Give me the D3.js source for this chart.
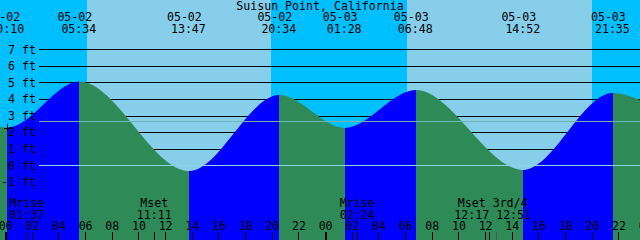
<!DOCTYPE html>
<html>
<head>
<meta charset="utf-8">
<script src="https://cdn.jsdelivr.net/npm/d3@7"></script>
<style>
  html, body { margin: 0; padding: 0; overflow: hidden; background: #87CEEB; }
</style>
</head>
<body>
<div id="chart"></div>
<script>
// tide chart data
const title = "Suisun Point, California";
const domainTimes = ["05-01 23:37", "05-03 23:37"];

// tide level at the edges and at each high / low
const tideTimes = ["05-01 23:37", "05-02 00:10", "05-02 05:34", "05-02 13:47", "05-02 20:34",
                   "05-03 01:28", "05-03 06:48", "05-03 14:52", "05-03 21:35", "05-03 23:37"];
const tideFeet = [2.33, 2.27, 5.05, -0.35, 4.24, 2.25, 4.54, -0.28, 4.36, 3.94];

// sunrise / sunset, the chart starts at night
const sunTimes = ["05-02 06:10", "05-02 19:58", "05-03 06:08", "05-03 19:59"];

// moon events
const moonTimes = ["05-02 01:37", "05-02 11:11", "05-03 02:24", "05-03 12:17", "05-03 12:51"];
const moonNames = ["Mrise", "Mset", "Mrise", "Mset", "3rd/4"];

const ftTicks = [-1, 0, 1, 2, 3, 4, 5, 6, 7];
const datumFt = 0;
const mslFt = 2.7;
const hourTickRange = ["05-02 00:00", "05-04 00:00"];

const width = 640, height = 240;
const font = "'DejaVu Sans Mono', 'Liberation Mono', monospace";
const fontSize = "11.6px";

const parse = d3.timeParse("%m-%d %H:%M");
const fmtDate = d3.timeFormat("%m-%d");
const fmtTime = d3.timeFormat("%H:%M");

const tide = tideTimes.map((t, i) => ({ t: parse(t), ft: tideFeet[i] }));

const x = d3.scaleTime()
    .domain(domainTimes.map(parse))
    .range([0, width]);

const y = d3.scaleLinear()
    .domain([0, 7])
    .range([165.3, 49.3]);

const svg = d3.select("#chart")
    .append("svg")
    .attr("width", width)
    .attr("height", height)
    .style("display", "block");

// sky: night before first sunrise, then alternating
const sunEdges = [x.domain()[0], ...sunTimes.map(parse), x.domain()[1]];
svg.selectAll(".sky")
    .data(d3.pairs(sunEdges))
    .enter()
    .append("rect")
    .attr("class", "sky")
    .attr("x", d => Math.round(x(d[0])))
    .attr("y", 0)
    .attr("width", d => Math.round(x(d[1])) - Math.round(x(d[0])))
    .attr("height", height)
    .attr("fill", (d, i) => i % 2 === 0 ? "#00BFFF" : "#87CEEB");

// black grid lines, hidden under the water
svg.append("g")
    .attr("transform", "translate(39,0)")
    .call(d3.axisLeft(y).tickValues(ftTicks).tickSize(-(width - 39)).tickFormat(""))
    .call(g => g.select(".domain").remove())
    .selectAll("line")
    .attr("stroke", "#000")
    .attr("shape-rendering", "crispEdges");

// water: area clip, coloured by rising / falling
const area = d3.area()
    .x(d => x(d.t))
    .y0(height)
    .y1(d => y(d.ft))
    .curve(d3.curveMonotoneX);

svg.append("clipPath")
    .attr("id", "water")
    .append("path")
    .attr("d", area(tide));

svg.append("g")
    .attr("clip-path", "url(#water)")
    .selectAll("rect")
    .data(d3.pairs(tide))
    .enter()
    .append("rect")
    .attr("x", d => Math.round(x(d[0].t)))
    .attr("y", 0)
    .attr("width", d => Math.round(x(d[1].t)) - Math.round(x(d[0].t)))
    .attr("height", height)
    .attr("fill", d => d[1].ft > d[0].ft ? "#0000FF" : "#2E8B57");

// datum and mean sea level lines
svg.append("line")
    .attr("x1", 39).attr("x2", width)
    .attr("y1", Math.round(y(mslFt)) + 0.5).attr("y2", Math.round(y(mslFt)) + 0.5)
    .attr("stroke", "#6fb5b5");
svg.append("line")
    .attr("x1", 39).attr("x2", width)
    .attr("y1", Math.round(y(datumFt)) + 0.5).attr("y2", Math.round(y(datumFt)) + 0.5)
    .attr("stroke", "#8fd3ea");

// ft labels
svg.append("g")
    .attr("transform", "translate(39,0)")
    .call(d3.axisLeft(y).tickValues(ftTicks).tickSize(0).tickPadding(3).tickFormat(d => d + " ft"))
    .call(g => g.select(".domain").remove())
    .selectAll("text")
    .attr("fill", "#000")
    .attr("font-family", font)
    .attr("font-size", fontSize);

// marker at the first low
const first = tide[1];
svg.append("path")
    .attr("d", `M${x(first.t) - 3.5},${y(first.ft) + 0.5}h8M${Math.round(x(first.t)) + 0.5},${y(first.ft) - 3.5}v8`)
    .attr("stroke", "#000")
    .attr("shape-rendering", "crispEdges");

// title
svg.append("text")
    .attr("x", width / 2)
    .attr("y", 9.6)
    .attr("text-anchor", "middle")
    .attr("font-family", font)
    .attr("font-size", fontSize)
    .text(title);

// high / low labels along the top
const events = tide.slice(1, -1);
const topLabels = svg.append("g")
    .attr("font-family", font)
    .attr("font-size", fontSize)
    .attr("text-anchor", "middle");
topLabels.selectAll(".date")
    .data(events)
    .enter()
    .append("text")
    .attr("x", d => x(d.t) - 4.5)
    .attr("y", 21)
    .text(d => fmtDate(d.t));
topLabels.selectAll(".time")
    .data(events)
    .enter()
    .append("text")
    .attr("x", d => x(d.t) - 0.5)
    .attr("y", 33)
    .text(d => fmtTime(d.t));

// moon labels, events close together share one label
const moon = moonTimes.map((t, i) => ({ t: parse(t), name: moonNames[i] }));
const groups = [];
moon.forEach(m => {
    const last = groups[groups.length - 1];
    if (last && m.t - last[last.length - 1].t < 3600e3) last.push(m);
    else groups.push([m]);
});
const moonLabels = svg.append("g")
    .attr("font-family", font)
    .attr("font-size", fontSize)
    .attr("text-anchor", "middle");
groups.forEach(g => {
    const cx = d3.mean(g, m => x(m.t));
    moonLabels.append("text").attr("x", cx).attr("y", 207).text(g.map(m => m.name).join(" "));
    moonLabels.append("text").attr("x", cx).attr("y", 219).text(g.map(m => fmtTime(m.t)).join(" "));
});

// hour axis
const hourTicks = d3.timeHour.every(2).range(parse(hourTickRange[0]), d3.timeMinute.offset(parse(hourTickRange[1]), 1));
const hours = svg.append("g")
    .attr("transform", `translate(0,${height})`)
    .call(d3.axisTop(x).tickValues(hourTicks).tickSize(8).tickPadding(2).tickFormat(d3.timeFormat("%H")));
hours.select(".domain").remove();
hours.selectAll("text")
    .attr("fill", "#000")
    .attr("font-family", font)
    .attr("font-size", fontSize);
hours.selectAll("line")
    .attr("stroke", "#000")
    .attr("shape-rendering", "crispEdges")
    .attr("stroke-width", d => d.getHours() === 0 ? 2 : 1);

// moon ticks
svg.selectAll(".moontick")
    .data(moon)
    .enter()
    .append("line")
    .attr("class", "moontick")
    .attr("x1", d => Math.round(x(d.t)) + 0.5)
    .attr("x2", d => Math.round(x(d.t)) + 0.5)
    .attr("y1", height - 8)
    .attr("y2", height)
    .attr("stroke", d => d.name === "3rd/4" ? "#555" : "#000")
    .attr("shape-rendering", "crispEdges");
</script>
</body>
</html>
